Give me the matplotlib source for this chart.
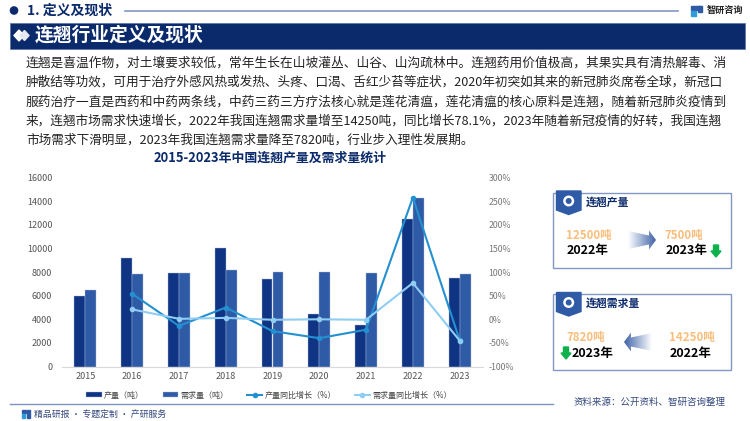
import numpy as np
import matplotlib
matplotlib.use("Agg")
import matplotlib.pyplot as plt
from matplotlib.patches import Rectangle, Polygon, Circle
from matplotlib.lines import Line2D

plt.rcParams['font.family'] = ['Noto Sans CJK SC', 'DejaVu Sans']

# 数据
years = ['2015', '2016', '2017', '2018', '2019', '2020', '2021', '2022', '2023']
production = [5950, 9200, 7950, 10000, 7450, 4450, 3500, 12500, 7500]
demand = [6450, 7800, 7900, 8150, 8050, 8050, 7950, 14250, 7820]
production_growth = [np.nan, 54, -14, 25, -25, -40, -22, 258, -44]
demand_growth = [np.nan, 21, 1, 3, -1, 0, -1, 77, -45]
left_ticks = [0, 2000, 4000, 6000, 8000, 10000, 12000, 14000, 16000]
right_ticks = [-100, -50, 0, 50, 100, 150, 200, 250, 300]

body_lines = [
    "连翘是喜温作物，对土壤要求较低，常年生长在山坡灌丛、山谷、山沟疏林中。连翘药用价值极高，其果实具有清热解毒、消",
    "肿散结等功效，可用于治疗外感风热或发热、头疼、口渴、舌红少苔等症状，2020年初突如其来的新冠肺炎席卷全球，新冠口",
    "服药治疗一直是西药和中药两条线，中药三药三方疗法核心就是莲花清瘟，莲花清瘟的核心原料是连翘，随着新冠肺炎疫情到",
    "来，连翘市场需求快速增长，2022年我国连翘需求量增至14250吨，同比增长78.1%，2023年随着新冠疫情的好转，我国连翘",
    "市场需求下滑明显，2023年我国连翘需求量降至7820吨，行业步入理性发展期。",
]

W, H = 750, 421
NAVY = '#0B2A6B'
BAR1 = '#0F3484'
BAR2 = '#2F5AA6'
LINE1 = '#2490D0'
LINE2 = '#8FCDF2'
ORANGE = '#F9BE7C'
GRID = '#D9D9D9'
fig = plt.figure(figsize=(W / 100, H / 100), dpi=100, facecolor='white')

# 装饰层，像素坐标
bg = fig.add_axes([0, 0, 1, 1])
bg.set_xlim(0, W)
bg.set_ylim(H, 0)
bg.axis('off')

# 顶部标题
bg.add_patch(Circle((14, 10.5), 3.6, color=NAVY))
bg.text(27, 10.5, '1. 定义及现状', fontsize=10, fontweight='bold', color=NAVY, va='center')
bg.add_line(Line2D([125, 678], [10.5, 10.5], color='#8497C0', lw=1.2))
bg.add_patch(Rectangle((10, 22.5), 735, 26, fc=NAVY, ec='#5F78AE', lw=0.6))
bg.add_patch(Polygon([(14, 35.5), (19, 30), (24, 35.5), (19, 41)], color='white'))
bg.add_patch(Polygon([(20, 35.5), (24.5, 30.5), (29, 35.5), (24.5, 40.5)], color='#E6E9F0'))
bg.text(35, 35, '连翘行业定义及现状', fontsize=13.5, fontweight='bold', color='white', va='center')

# 正文两端对齐：按宽度微调字号
renderer = fig.canvas.get_renderer()
for i, line in enumerate(body_lines):
    t = bg.text(26, 63.5 + i * 19.1, line, fontsize=9.1, color='#222222', va='center')
    if i < 4:
        t.set_fontsize(9.1 * 698 / t.get_window_extent(renderer).width)

bg.text(270, 158, '2015-2023年中国连翘产量及需求量统计', fontsize=9.3, fontweight='bold',
        color=NAVY, ha='center', va='center')

# 底部
bg.add_line(Line2D([10, 553], [403.5, 403.5], color='#7F93BD', lw=1))
bg.add_patch(Rectangle((22, 410), 4, 3, color='#2F5AA6'))
bg.add_patch(Rectangle((27, 410), 3, 8, color='#2F5AA6'))
bg.add_patch(Rectangle((22, 414), 3, 4, color='#2F9BD7'))
bg.text(34, 414, '精品研报 · 专题定制 · 产研服务', fontsize=6.4, color='#33487F', va='center')
bg.text(574, 402.5, '资料来源：公开资料、智研咨询整理', fontsize=6.8, color='#33487F', va='center')

# 图表
ax = fig.add_axes([62 / W, 1 - 366.5 / H, (483 - 62) / W, (366.5 - 177.7) / H])
ax.patch.set_alpha(0)
x = np.arange(len(years))
bw = 0.235
ax.bar(x - bw / 2, production, bw, color=BAR1, ec='#A9B8D8', lw=0.3, label='产量（吨）')
ax.bar(x + bw / 2, demand, bw, color=BAR2, ec='#A9B8D8', lw=0.3, label='需求量（吨）')
ax.set_xlim(-0.5, 8.5)
ax.set_ylim(0, 16000)
ax.set_yticks(left_ticks)
ax.set_xticks(x, years)
ax.tick_params(length=0, labelsize=6.5, labelcolor='#555555', pad=7)
ax.tick_params(axis='x', pad=4)
for s in ['top', 'left', 'right']:
    ax.spines[s].set_visible(False)
ax.spines['bottom'].set_color(GRID)

ax2 = ax.twinx()
ax2.plot(x, production_growth, color=LINE1, lw=1.5, marker='o', ms=3, label='产量同比增长（%）')
ax2.plot(x, demand_growth, color=LINE2, lw=1.5, marker='o', ms=3, label='需求量同比增长（%）')
ax2.set_ylim(-100, 300)
ax2.set_yticks(right_ticks, [f'{t}%' for t in right_ticks])
ax2.tick_params(length=0, labelsize=6.3, labelcolor='#777777', pad=4)
for s in ['top', 'left', 'right', 'bottom']:
    ax2.spines[s].set_visible(False)

h1, l1 = ax.get_legend_handles_labels()
h2, l2 = ax2.get_legend_handles_labels()
ax.legend(h1 + h2, l1 + l2, ncol=4, frameon=False, fontsize=5.8, labelcolor='#444444',
          loc='center', bbox_to_anchor=(0.492, -0.151), columnspacing=2.3, handlelength=1.9,
          handleheight=0.5, handletextpad=0.3)


def gradient_arrow(x0, x1, yc, flip=False):
    # 渐变箭头，尾部淡、头部深
    d = -1 if flip else 1
    xh = x1 - 7 * d
    pts = [(x0, yc - 9), (xh, yc - 4.5), (xh, yc - 9.5), (x1, yc), (xh, yc + 9.5), (xh, yc + 4.5), (x0, yc + 9)]
    grad = np.linspace(0, 1, 64).reshape(1, -1)
    cmap = matplotlib.colors.LinearSegmentedColormap.from_list('g', ['#FFFFFF', '#3F63A8'])
    im = bg.imshow(grad[:, ::d], extent=[min(x0, x1), max(x0, x1), yc + 10, yc - 10],
                   cmap=cmap, aspect='auto', zorder=2)
    poly = Polygon(pts, fc='none', ec='none')
    bg.add_patch(poly)
    im.set_clip_path(poly)
    bg.set_xlim(0, W)
    bg.set_ylim(H, 0)


def down_arrow(xc, yc):
    bg.add_patch(Polygon([(xc - 2.5, yc - 6), (xc + 2.5, yc - 6), (xc + 2.5, yc), (xc + 5, yc),
                          (xc, yc + 6), (xc - 5, yc), (xc - 2.5, yc)], color='#0CB14B', zorder=3))


def card(y0, y1, title):
    bg.add_patch(Rectangle((553, y0), 178, y1 - y0, fc='white', ec='#8397C4', lw=1))
    by = y0 - 1.5
    bg.add_patch(Polygon([(556.5, by), (581, by), (581, by + 19), (568.7, by + 23.5),
                          (556.5, by + 19)], color='#2F5AA6', zorder=3))
    bg.add_patch(Circle((568.7, by + 10), 5.5, fc='white', ec='none', zorder=4))
    bg.add_patch(Circle((568.7, by + 10), 3, fc='#2F5AA6', ec='none', zorder=5))
    bg.text(585.5, by + 11, title, fontsize=7.8, fontweight='bold', color=NAVY, va='center')


card(192.5, 268, '连翘产量')
bg.text(589, 235, '12500吨', fontsize=8.3, fontweight='bold', color=ORANGE, ha='center', va='center')
bg.text(588, 250.5, '2022年', fontsize=9, fontweight='bold', color='black', ha='center', va='center')
gradient_arrow(628, 656, 240)
bg.text(684, 235, '7500吨', fontsize=8.3, fontweight='bold', color=ORANGE, ha='center', va='center')
bg.text(687, 250.5, '2023年', fontsize=9, fontweight='bold', color='black', ha='center', va='center')
down_arrow(716, 251)

card(294, 370, '连翘需求量')
bg.text(586, 337, '7820吨', fontsize=8.3, fontweight='bold', color=ORANGE, ha='center', va='center')
bg.text(593, 353, '2023年', fontsize=9, fontweight='bold', color='black', ha='center', va='center')
down_arrow(566, 353)
gradient_arrow(652, 624, 342, flip=True)
bg.text(692, 337, '14250吨', fontsize=8.3, fontweight='bold', color=ORANGE, ha='center', va='center')
bg.text(691, 353, '2022年', fontsize=9, fontweight='bold', color='black', ha='center', va='center')

# 右上角标志
bg.add_patch(Rectangle((691, 6), 10, 3.5, color='#2F5AA6'))
bg.add_patch(Rectangle((698, 6), 3.5, 6, color='#2F5AA6'))
bg.add_patch(Rectangle((691, 11), 5, 5, color='#2F9BD7'))
bg.text(707, 10.5, '智研咨询', fontsize=6.6, fontweight='bold', color='#222222', va='center')

fig.savefig('out.png', dpi=100)
